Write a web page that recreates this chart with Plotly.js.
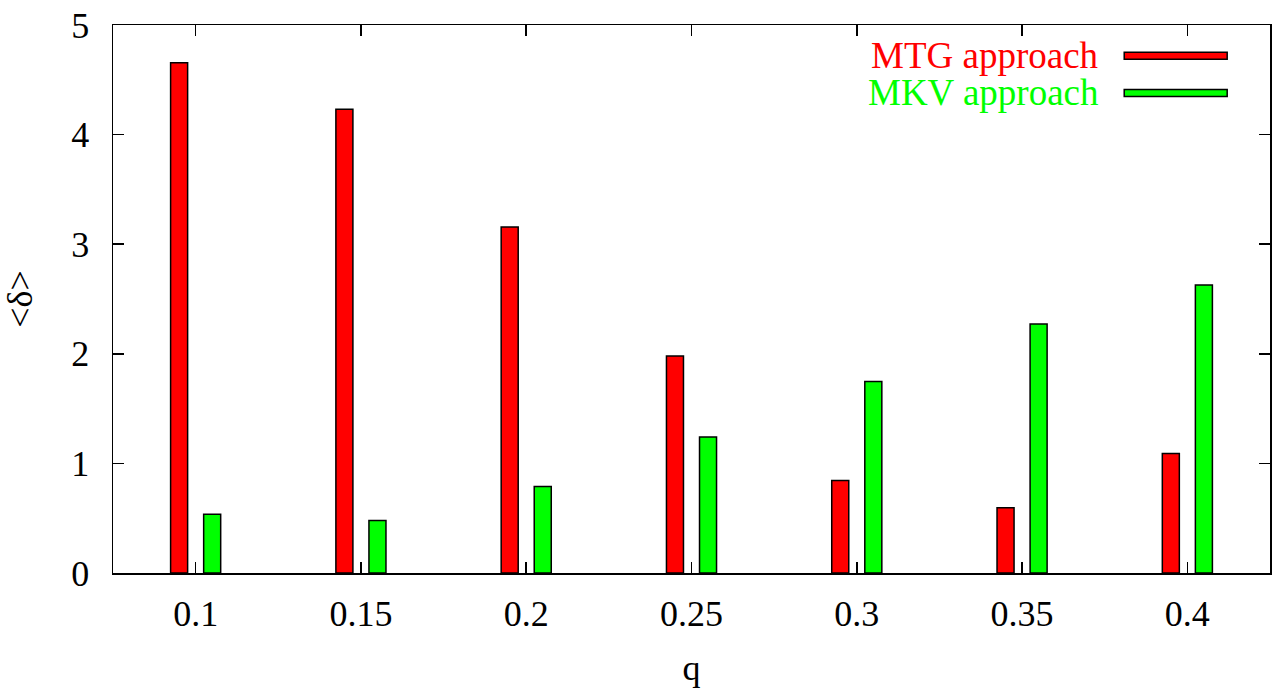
<!DOCTYPE html>
<html>
<head>
<meta charset="utf-8">
<script src="https://cdn.plot.ly/plotly-3.0.1.min.js"></script>
<style>html,body{margin:0;padding:0;background:#fff}#chart{width:1272px;height:692px}</style>
</head>
<body>
<div id="chart"></div>
<script>
const categories = ["0.1", "0.15", "0.2", "0.25", "0.3", "0.35", "0.4"];
const mtgValues = [4.655, 4.232, 3.157, 1.981, 0.845, 0.595, 1.091];
const mkvValues = [0.535, 0.480, 0.790, 1.240, 1.747, 2.273, 2.628];
const seriesNames = ["MTG approach", "MKV approach"];
const seriesColors = ["#ff0000", "#00ff00"];
const yTicks = [0, 1, 2, 3, 4, 5];

const FONT = "Liberation Serif, Times New Roman, serif";

const traces = [mtgValues, mkvValues].map((vals, i) => ({
  type: "bar",
  x: categories,
  y: vals,
  name: seriesNames[i],
  marker: { color: seriesColors[i], line: { color: "#000", width: 1.5 } },
  showlegend: false,
  hoverinfo: "x+y"
}));

// custom legend: text on the left, sample bar on the right (gnuplot style)
const legendY = [0.944, 0.876];
const annotations = seriesNames.map((n, i) => ({
  xref: "paper", yref: "paper", x: 0.854, y: legendY[i],
  xanchor: "right", yanchor: "middle", showarrow: false,
  text: n, font: { family: FONT, size: 37, color: seriesColors[i] }
}));
const shapes = seriesNames.map((n, i) => ({
  type: "rect", xref: "paper", yref: "paper",
  x0: 0.874, x1: 0.963, y0: legendY[i] - 0.0064, y1: legendY[i] + 0.0064,
  fillcolor: seriesColors[i], line: { color: "#000", width: 1.5 }
}));

const layout = {
  width: 1272, height: 692,
  margin: { l: 113, r: 2, t: 24.5, b: 119, pad: 0 },
  paper_bgcolor: "#fff", plot_bgcolor: "#fff",
  font: { family: FONT, size: 36, color: "#000" },
  barmode: "group", bargap: 0.6, bargroupgap: 0.485,
  xaxis: {
    type: "category", range: [-0.5, 6.5],
    showline: true, linecolor: "#000", linewidth: 1.5, mirror: "ticks",
    ticks: "inside", ticklen: 11, tickwidth: 1.5, tickcolor: "#000",
    showgrid: false, zeroline: false, ticklabelstandoff: 8,
    tickfont: { family: FONT, size: 36, color: "#000" },
    title: { text: "q", font: { family: FONT, size: 36, color: "#000" }, standoff: 22 },
    automargin: false
  },
  yaxis: {
    range: [0, 5], tickvals: yTicks, ticktext: yTicks.map(String),
    showline: true, linecolor: "#000", linewidth: 1.5, mirror: "ticks",
    ticks: "inside", ticklen: 11, tickwidth: 1.5, tickcolor: "#000",
    showgrid: false, zeroline: false, ticklabelstandoff: 15,
    tickfont: { family: FONT, size: 36, color: "#000" },
    title: { text: "&lt;δ&gt;", font: { family: FONT, size: 36, color: "#000" }, standoff: 36 },
    automargin: false
  },
  annotations: annotations,
  shapes: shapes
};

Plotly.newPlot("chart", traces, layout, { displayModeBar: false, staticPlot: true });
</script>
</body>
</html>
